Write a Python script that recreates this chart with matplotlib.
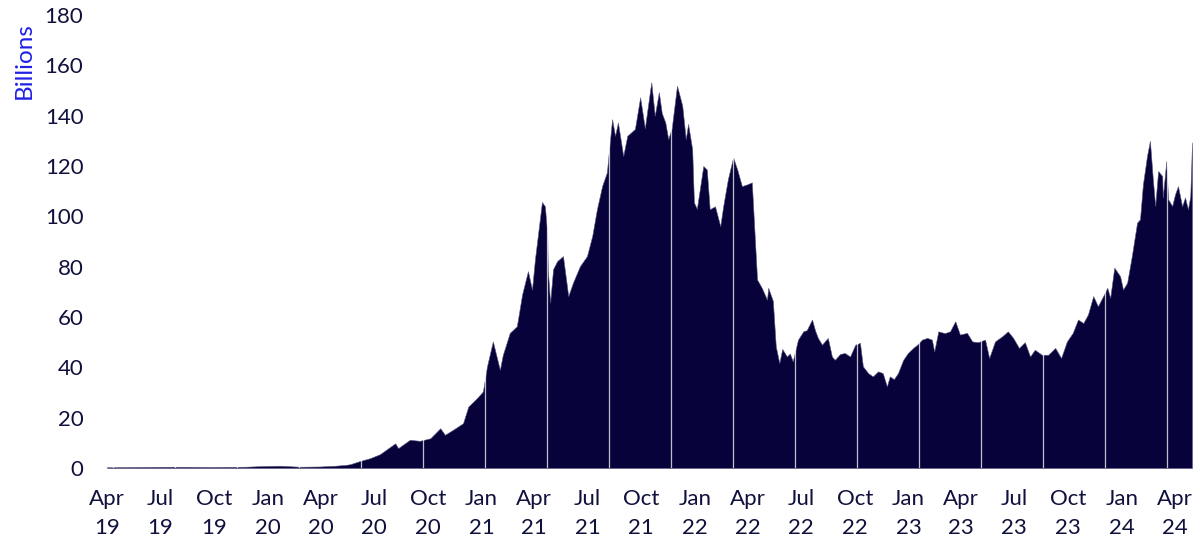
import pandas as pd
import matplotlib.pyplot as plt

# values (billions)
dates = [
    "2019-04-01", "2019-05-27", "2019-07-26", "2019-09-24", "2019-11-23", "2019-12-27",
    "2020-01-22", "2020-02-25", "2020-03-30", "2020-04-25", "2020-05-12", "2020-05-21",
    "2020-06-07", "2020-06-24", "2020-07-11", "2020-07-23", "2020-08-06", "2020-08-11",
    "2020-08-31", "2020-09-17", "2020-10-05", "2020-10-22", "2020-10-30", "2020-11-13",
    "2020-11-30", "2020-12-09", "2020-12-24", "2021-01-03", "2021-01-10", "2021-01-20",
    "2021-02-01", "2021-02-06", "2021-02-18", "2021-03-02", "2021-03-11", "2021-03-21",
    "2021-03-28", "2021-04-02", "2021-04-14", "2021-04-19", "2021-04-23", "2021-04-24",
    "2021-04-28", "2021-05-03", "2021-05-10", "2021-05-20", "2021-05-29", "2021-06-06",
    "2021-06-18", "2021-06-30", "2021-07-09", "2021-07-17", "2021-07-26", "2021-08-03",
    "2021-08-08", "2021-08-12", "2021-08-17", "2021-08-22", "2021-08-31", "2021-09-07",
    "2021-09-20", "2021-09-29", "2021-10-07", "2021-10-18", "2021-10-24", "2021-10-31",
    "2021-11-05", "2021-11-11", "2021-11-16", "2021-11-22", "2021-12-01", "2021-12-10",
    "2021-12-16", "2021-12-20", "2021-12-27", "2021-12-30", "2022-01-04", "2022-01-15",
    "2022-01-21", "2022-01-26", "2022-02-04", "2022-02-13", "2022-02-18", "2022-02-26",
    "2022-03-07", "2022-03-14", "2022-03-22", "2022-03-31", "2022-04-08", "2022-04-13",
    "2022-04-17", "2022-04-25", "2022-05-04", "2022-05-06", "2022-05-14", "2022-05-19",
    "2022-05-25", "2022-05-30", "2022-06-07", "2022-06-12", "2022-06-17", "2022-06-26",
    "2022-07-05", "2022-07-11", "2022-07-20", "2022-07-25", "2022-07-30", "2022-08-06",
    "2022-08-16", "2022-08-23", "2022-08-28", "2022-09-06", "2022-09-14", "2022-09-23",
    "2022-10-02", "2022-10-10", "2022-10-15", "2022-10-24", "2022-11-01", "2022-11-10",
    "2022-11-18", "2022-11-25", "2022-11-30", "2022-12-07", "2022-12-14", "2022-12-23",
    "2022-12-31", "2023-01-09", "2023-01-16", "2023-01-24", "2023-02-02", "2023-02-10",
    "2023-02-14", "2023-02-21", "2023-03-04", "2023-03-13", "2023-03-22", "2023-03-30",
    "2023-04-11", "2023-04-20", "2023-04-30", "2023-05-12", "2023-05-19", "2023-05-29",
    "2023-06-10", "2023-06-20", "2023-06-29", "2023-07-09", "2023-07-19", "2023-07-28",
    "2023-08-05", "2023-08-17", "2023-08-28", "2023-09-09", "2023-09-19", "2023-09-29",
    "2023-10-09", "2023-10-18", "2023-10-27", "2023-11-04", "2023-11-13", "2023-11-21",
    "2023-11-30", "2023-12-07", "2023-12-12", "2023-12-19", "2023-12-29", "2024-01-03",
    "2024-01-10", "2024-01-18", "2024-01-27", "2024-02-01", "2024-02-06", "2024-02-13",
    "2024-02-18", "2024-02-23", "2024-02-27", "2024-03-03", "2024-03-10", "2024-03-11",
    "2024-03-17", "2024-03-20", "2024-03-27", "2024-04-01", "2024-04-06", "2024-04-13",
    "2024-04-18", "2024-04-23", "2024-04-27", "2024-04-30",
]
values = [
    0.3, 0.4, 0.5, 0.4, 0.5, 0.8,
    0.9, 0.5, 0.6, 0.9, 1.2, 1.5,
    2.8, 3.9, 5.5, 7.5, 9.8, 7.9,
    11.2, 10.8, 11.8, 15.8, 13.2, 15.2,
    17.8, 24.4, 27.8, 30.4, 40.4, 50.3,
    39.0, 44.9, 53.7, 56.3, 68.9, 78.2,
    70.9, 82.9, 105.7, 104.0, 93.6, 78.9,
    65.7, 79.0, 82.2, 84.2, 68.3, 73.6,
    80.2, 84.2, 92.2, 102.8, 112.1, 117.4,
    129.4, 138.6, 132.0, 137.3, 124.0, 132.0,
    134.7, 147.3, 135.0, 153.3, 140.0, 149.3,
    141.0, 137.3, 130.7, 135.0, 151.9, 144.0,
    130.7, 136.7, 126.7, 105.5, 103.0, 120.0,
    118.6, 102.8, 104.0, 96.1, 104.0, 114.7,
    123.4, 118.6, 112.0, 112.7, 113.5, 92.0,
    74.9, 71.6, 66.9, 71.6, 66.4, 48.3,
    41.7, 47.3, 44.3, 45.5, 42.4, 51.0,
    54.3, 54.8, 59.0, 54.8, 51.7, 49.0,
    51.7, 44.3, 43.0, 45.3, 45.7, 44.3,
    49.0, 49.7, 40.4, 37.7, 36.4, 38.4,
    37.7, 32.4, 36.4, 35.3, 37.7, 43.0,
    45.7, 47.7, 49.0, 51.0, 51.7, 51.0,
    46.3, 54.3, 53.6, 54.3, 58.3, 53.0,
    53.7, 50.3, 50.0, 51.0, 43.7, 50.3,
    52.3, 54.3, 51.7, 47.7, 50.0, 44.3,
    47.0, 45.0, 45.0, 47.7, 43.7, 50.3,
    53.7, 59.0, 57.6, 61.0, 68.3, 64.3,
    68.3, 71.6, 67.6, 79.6, 76.2, 70.9,
    73.6, 84.2, 97.5, 98.8, 112.7, 124.0,
    130.0, 114.7, 104.1, 118.0, 116.0, 107.5,
    122.0, 106.8, 104.1, 108.8, 112.0, 104.0,
    107.5, 102.8, 108.0, 129.4,
]

tick_dates = pd.date_range("2019-04-01", "2024-04-01", freq="QS-JAN")
tick_labels = [d.strftime("%b\n%y") for d in tick_dates]

navy = "#07033a"
text_col = "#10103c"
fonts = ["Lato", "DejaVu Sans"]

data = pd.DataFrame({"date": pd.to_datetime(dates), "value": values})

fig = plt.figure(figsize=(12, 5.52), dpi=100)
ax = fig.add_axes([107 / 1200, 1 - 468 / 552, (1192.6 - 107) / 1200, (468 - 15) / 552])

ax.fill_between(data["date"], data["value"], 0, color=navy, lw=0.4, edgecolor="#5a5880")

# thin light gaps that show up every ~106 days in the original bar chart
for d in pd.date_range("2019-04-12", "2024-04-30", freq="106D"):
    ax.axvline(d, color="white", lw=0.9, alpha=0.75)

ax.axhline(0, color="#c8c8d0", lw=0.9, zorder=0)

ax.set_xlim(pd.Timestamp("2019-04-01"), pd.Timestamp("2024-05-01"))
ax.set_ylim(0, 180)
ax.set_yticks(range(0, 181, 20))
ax.set_xticks(tick_dates)
ax.set_xticklabels(tick_labels, linespacing=1.55)

for s in ax.spines.values():
    s.set_visible(False)
ax.tick_params(axis="both", length=0, labelsize=16, labelcolor=text_col)
ax.tick_params(axis="x", pad=15)
ax.tick_params(axis="y", pad=17)
for lab in ax.get_xticklabels() + ax.get_yticklabels():
    lab.set_family(fonts)

fig.text(24 / 1200, 1 - 61 / 552, "Billions", rotation=90, color="#2020e6",
         fontsize=17.5, family=fonts, ha="center", va="center")

fig.savefig("out.png", dpi=100)
